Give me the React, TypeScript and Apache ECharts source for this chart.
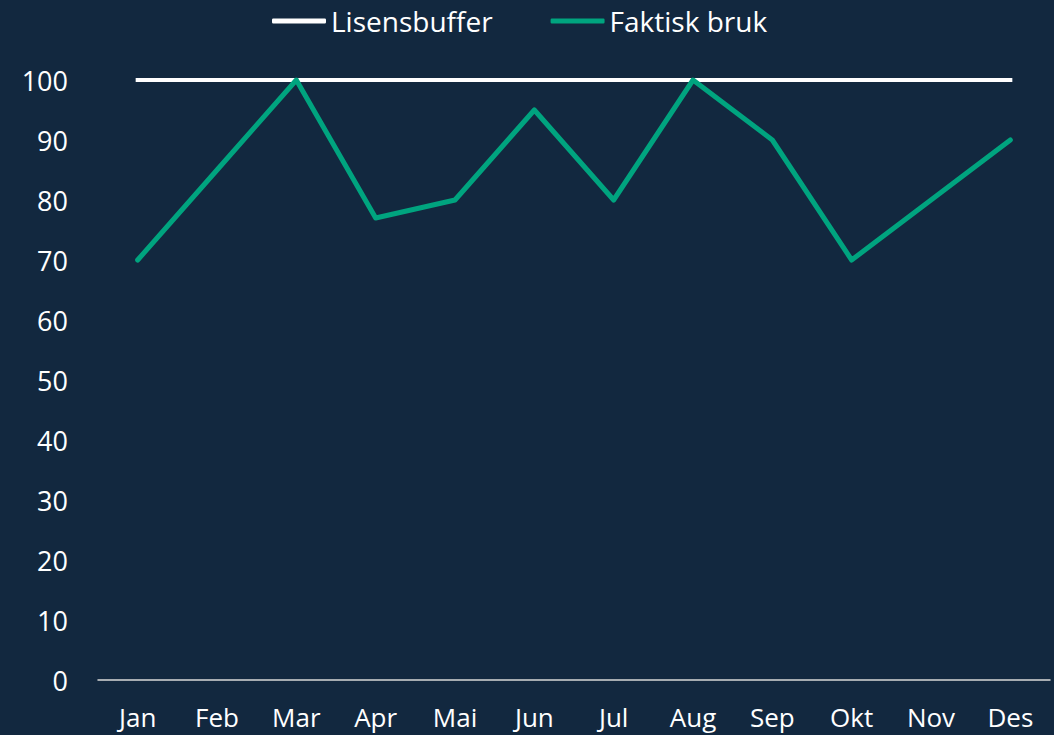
import React, { useEffect, useRef } from "react";
import * as echarts from "echarts";

const months = ["Jan", "Feb", "Mar", "Apr", "Mai", "Jun", "Jul", "Aug", "Sep", "Okt", "Nov", "Des"];
const lisensbuffer = [100, 100, 100, 100, 100, 100, 100, 100, 100, 100, 100, 100];
const faktiskBruk = [70, 85, 100, 77, 80, 95, 80, 100, 90, 70, 80, 90];

const FONT = "'Open Sans', sans-serif";

export default function App() {
  const ref = useRef<HTMLDivElement>(null);
  useEffect(() => {
    const chart = echarts.init(ref.current!, null, { renderer: "svg" });
    chart.setOption({
      animation: false,
      backgroundColor: "#12283f",
      textStyle: { fontFamily: FONT },
      legend: {
        left: 272,
        top: 3,
        padding: 0,
        itemWidth: 54,
        itemHeight: 5,
        itemGap: 58,
        textStyle: { color: "#ffffff", fontSize: 28, lineHeight: 36, fontFamily: FONT, padding: [0, 0, 0, 0] },
        data: [
          { name: "Lisensbuffer", icon: "roundRect", itemStyle: { color: "#ffffff" } },
          { name: "Faktisk bruk", icon: "roundRect", itemStyle: { color: "#00a47f" } },
        ],
      },
      grid: { left: 98, right: 4, top: 80, bottom: 55, containLabel: false },
      xAxis: {
        type: "category",
        data: months,
        boundaryGap: true,
        axisLine: { lineStyle: { color: "#d9d9d9", width: 1.5 } },
        axisTick: { show: false },
        axisLabel: { color: "#ffffff", fontSize: 26, lineHeight: 26, fontFamily: FONT, margin: 24 },
      },
      yAxis: {
        type: "value",
        min: 0,
        max: 100,
        interval: 10,
        splitLine: { show: false },
        axisLine: { show: false },
        axisTick: { show: false },
        axisLabel: { color: "#ffffff", fontSize: 27, fontFamily: FONT, margin: 30 },
      },
      series: [
        {
          name: "Lisensbuffer",
          type: "line",
          data: lisensbuffer,
          showSymbol: false,
          symbol: "none",
          lineStyle: { color: "#ffffff", width: 4, cap: "square" },
          itemStyle: { color: "#ffffff" },
        },
        {
          name: "Faktisk bruk",
          type: "line",
          data: faktiskBruk,
          showSymbol: false,
          symbol: "none",
          lineStyle: { color: "#00a47f", width: 5, cap: "round", join: "round" },
          itemStyle: { color: "#00a47f" },
        },
      ],
    });
    return () => chart.dispose();
  }, []);
  return (
    <div
      ref={ref}
      style={{ position: "fixed", left: 0, top: 0, width: 1054, height: 735 }}
    />
  );
}
